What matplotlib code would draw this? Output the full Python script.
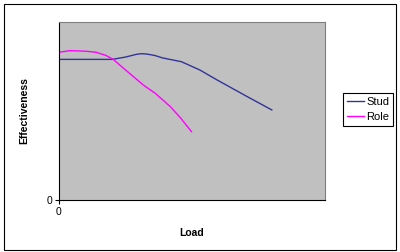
import matplotlib
matplotlib.use("Agg")
import matplotlib.pyplot as plt
from matplotlib.patches import Rectangle

plt.rcParams['font.family'] = ['Liberation Sans', 'DejaVu Sans']

# values (axis scaled 0..100 on both sides)
stud_x = [0, 20, 25, 29, 31, 33, 36, 39, 46, 53, 59, 70, 80]
stud_y = [79, 79, 80.3, 81.8, 82.2, 82.0, 81.2, 79.8, 77.7, 73, 67.8, 58.7, 50.6]

role_x = [0, 4.2, 10, 13.9, 17.5, 20.4, 24.5, 28.7, 31.7, 36.2, 41.9, 45.7, 49.8]
role_y = [83.0, 83.9, 83.6, 83.0, 81.3, 79.0, 73.7, 68.4, 64.6, 59.9, 52.4, 46.1, 38.4]

fig = plt.figure(figsize=(4, 2.52), dpi=100)
ax = fig.add_axes([59/400, 1-200/252, 266/400, 178/252])
ax.set_facecolor('#C0C0C0')

ax.plot(stud_x, stud_y, color='#333399', lw=1, label='Stud')
ax.plot(role_x, role_y, color='#FF00FF', lw=1, label='Role')

ax.set_xlim(0, 100)
ax.set_ylim(0, 100)
ax.set_xticks([0])
ax.set_yticks([0])
ax.tick_params(labelsize=7.5, length=3, width=0.8, pad=2)

for side in ['top', 'right']:
    ax.spines[side].set_color('#808080')
for side in ['left', 'bottom']:
    ax.spines[side].set_color('black')

ax.set_ylabel('Effectiveness', fontsize=7.5, fontweight='bold', labelpad=12)
ax.set_xlabel('Load', fontsize=7.5, fontweight='bold', labelpad=8)

leg = ax.legend(loc='upper left', bbox_to_anchor=(1.068, 0.60), fontsize=8,
                frameon=True, fancybox=False, edgecolor='black', framealpha=1,
                handlelength=1.5, handletextpad=0.25, borderpad=0.35,
                borderaxespad=0, labelspacing=0.45)
leg.get_frame().set_linewidth(0.8)

fig.patches.append(Rectangle((4/400, 2/252), 392/400, 246/252,
                             transform=fig.transFigure, fill=False,
                             edgecolor='black', lw=0.8))

fig.savefig('out.png', dpi=100)
